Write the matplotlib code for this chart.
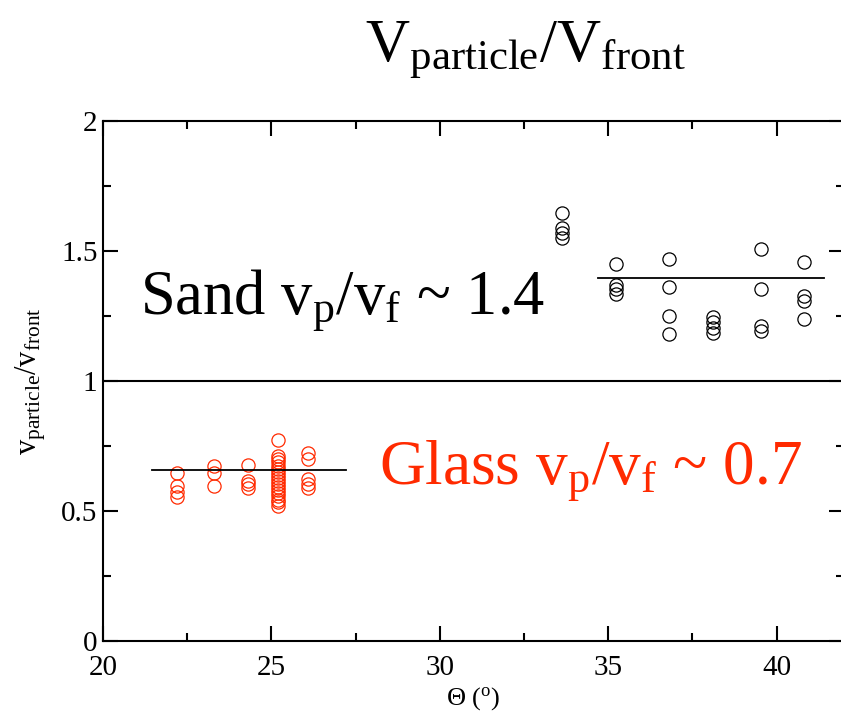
import matplotlib
matplotlib.use('Agg')
import matplotlib.pyplot as plt
from matplotlib.ticker import MultipleLocator

plt.rcParams['font.family'] = 'Liberation Serif'
plt.rcParams['mathtext.fontset'] = 'custom'
plt.rcParams['mathtext.rm'] = 'Liberation Serif'
plt.rcParams['mathtext.it'] = 'Liberation Serif:italic'

RED = '#ff2a00'

# glass beads: one column of measured ratios per inclination angle
glass_angles = [22.2, 23.3, 24.3, 25.2, 26.1]
glass_ratios = [
    [0.647, 0.595, 0.575, 0.555],
    [0.673, 0.647, 0.596],
    [0.677, 0.616, 0.605, 0.589],
    [0.773, 0.712, 0.700, 0.688, 0.675, 0.662, 0.650, 0.638, 0.627,
     0.615, 0.603, 0.592, 0.580, 0.568, 0.556, 0.543, 0.535, 0.521],
    [0.725, 0.700, 0.622, 0.603, 0.590],
]
glass_mean = 0.658
glass_span = [21.45, 27.2]

# sand
sand_angles = [33.63, 35.24, 36.80, 38.11, 39.53, 40.80]
sand_ratios = [
    [1.647, 1.589, 1.568, 1.549],
    [1.450, 1.368, 1.352, 1.335],
    [1.469, 1.360, 1.250, 1.180],
    [1.245, 1.226, 1.205, 1.185],
    [1.507, 1.355, 1.213, 1.193],
    [1.458, 1.328, 1.307, 1.237],
]
sand_mean = 1.395
sand_span = [34.7, 41.4]


def flatten(angles, ratios):
    xs, ys = [], []
    for a, col in zip(angles, ratios):
        xs += [a] * len(col)
        ys += col
    return xs, ys


fig = plt.figure(figsize=(8.41, 7.16), dpi=100)
ax = fig.add_axes([0.1225, 0.1047, 0.881, 0.7263])

gx, gy = flatten(glass_angles, glass_ratios)
sx, sy = flatten(sand_angles, sand_ratios)
ax.plot(gx, gy, 'o', mfc='none', mec=RED, ms=9.5, mew=0.9, zorder=2)
ax.plot(sx, sy, 'o', mfc='none', mec='black', ms=9.5, mew=0.9, zorder=2)

ax.plot(glass_span, [glass_mean, glass_mean], color='black', lw=1.3, zorder=3)
ax.plot(sand_span, [sand_mean, sand_mean], color='black', lw=1.3, zorder=3)
ax.axhline(1.0, color='black', lw=1.5, zorder=3)

ax.set_xlim(20, 42)
ax.set_ylim(0, 2)
ax.xaxis.set_major_locator(MultipleLocator(5))
ax.xaxis.set_minor_locator(MultipleLocator(2.5))
ax.yaxis.set_major_locator(MultipleLocator(0.5))
ax.yaxis.set_minor_locator(MultipleLocator(0.25))
ax.yaxis.set_major_formatter(plt.FuncFormatter(lambda v, p: f'{v:g}'))
ax.tick_params(which='both', direction='in', top=True, right=True,
               width=1.5, labelsize=21)
ax.tick_params(which='major', length=11)
ax.tick_params(which='minor', length=6)
ax.tick_params(axis='x', pad=10)
ax.tick_params(axis='y', pad=4)
for s in ax.spines.values():
    s.set_linewidth(1.5)

ax.set_xlabel(r'$\Theta$ ($^{\mathrm{o}}$)', fontsize=19, labelpad=3)
ax.set_ylabel(r'$\mathrm{v_{particle}/v_{front}}$', fontsize=22)
ax.yaxis.set_label_coords(-0.074, 0.5)

ax.text(21.1, 1.26, r'Sand v$_\mathrm{p}$/v$_\mathrm{f}$ ~ 1.4',
        fontsize=45, va='baseline', ha='left')
ax.text(28.2, 0.608, r'Glass v$_\mathrm{p}$/v$_\mathrm{f}$ ~ 0.7',
        fontsize=45.5, va='baseline', ha='left', color=RED)

fig.text(0.434, 1 - 62 / 716, r'$\mathrm{V_{particle}/V_{front}}$',
         fontsize=44, va='baseline', ha='left')

fig.savefig('out.png', dpi=100)
